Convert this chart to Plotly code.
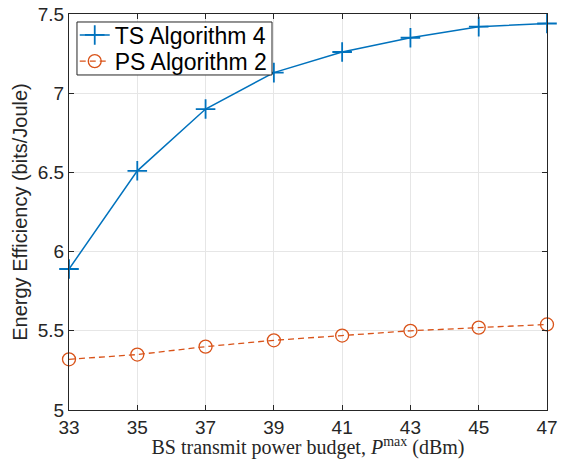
import plotly.graph_objects as go

power_dbm = [33, 35, 37, 39, 41, 43, 45, 47]
ts_alg4 = [5.89, 6.51, 6.90, 7.13, 7.26, 7.35, 7.42, 7.44]
ps_alg2 = [5.32, 5.35, 5.40, 5.44, 5.47, 5.50, 5.52, 5.54]
x_ticks = [33, 35, 37, 39, 41, 43, 45, 47]
y_ticks = [5, 5.5, 6, 6.5, 7, 7.5]
y_tick_text = ["5", "5.5", "6", "6.5", "7", "7.5"]

fig = go.Figure()
fig.add_trace(go.Scatter(
    x=power_dbm, y=ts_alg4, name="TS Algorithm 4", mode="lines+markers",
    line=dict(color="#0072BD", width=1.5),
    marker=dict(symbol="cross-thin", size=14, line=dict(color="#0072BD", width=1.8)),
    cliponaxis=False, legend="legend"))
fig.add_trace(go.Scatter(
    x=power_dbm, y=ps_alg2, name="PS Algorithm 2", mode="lines+markers",
    line=dict(color="#D95319", width=1.3, dash="6px,4px"),
    marker=dict(symbol="circle-open", size=13, color="#D95319", line=dict(color="#D95319", width=1.3)),
    cliponaxis=False, legend="legend2"))

axis_common = dict(showline=True, linecolor="#262626", linewidth=1, mirror="ticks",
                   ticks="inside", ticklen=5, tickcolor="#262626",
                   showgrid=True, gridcolor="#E6E6E6", gridwidth=1, zeroline=False,
                   tickfont=dict(family="Liberation Sans, Arial, sans-serif", size=19, color="#262626"))

legend_common = dict(x=0.012, xanchor="left", yanchor="middle",
                     borderwidth=0, bgcolor="rgba(0,0,0,0)",
                     font=dict(family="Liberation Sans, Arial, sans-serif", size=23, color="black"),
                     itemwidth=30)

fig.update_layout(
    width=563, height=459,
    margin=dict(l=69, r=16, t=14, b=49, autoexpand=False),
    paper_bgcolor="white", plot_bgcolor="white",
    xaxis=dict(range=[33, 47], tickvals=x_ticks, **axis_common,
               title=dict(text="BS transmit power budget, <i>P</i><sup>max</sup> (dBm)",
                          font=dict(family="Liberation Serif, Times New Roman, serif", size=20, color="#262626"),
                          standoff=0)),
    yaxis=dict(range=[5, 7.5], tickvals=y_ticks, ticktext=y_tick_text, **axis_common,
               title=dict(text="Energy Efficiency (bits/Joule)",
                          font=dict(family="Liberation Sans, Arial, sans-serif", size=20, color="#262626"),
                          standoff=4)),
    legend=dict(y=0.947, **legend_common),
    legend2=dict(y=0.881, **legend_common),
    shapes=[dict(type="rect", xref="paper", yref="paper", layer="above",
                 x0=0.0167, x1=0.4247, y0=0.846, y1=0.9798,
                 line=dict(color="#262626", width=1), fillcolor="white")],
    showlegend=True,
)

fig.write_html("out.html", config={"displayModeBar": False},
               post_script="document.body.style.margin='0';")
